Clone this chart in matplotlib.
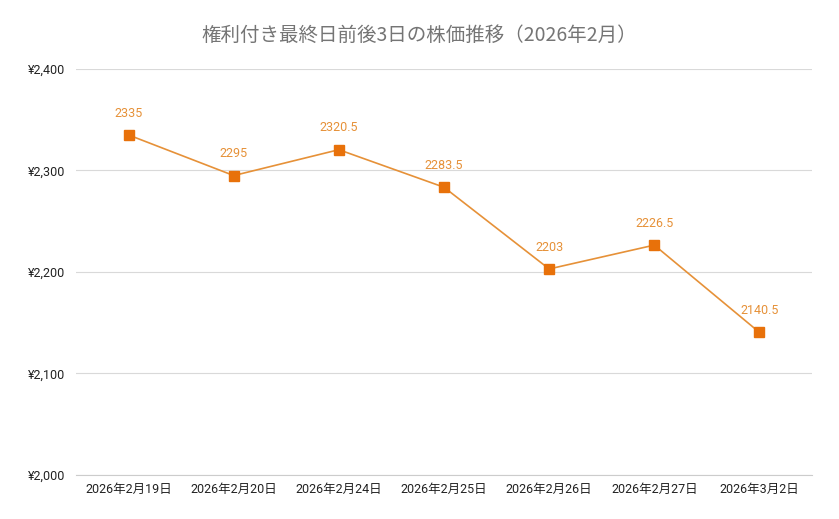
import matplotlib
matplotlib.use("Agg")
import matplotlib.pyplot as plt
from matplotlib.ticker import FuncFormatter

plt.rcParams['font.family'] = ['Roboto', 'Noto Sans CJK JP', 'DejaVu Sans']

# data
dates = ["2026年2月19日", "2026年2月20日", "2026年2月24日", "2026年2月25日",
         "2026年2月26日", "2026年2月27日", "2026年3月2日"]
prices = [2335, 2295, 2320.5, 2283.5, 2203, 2226.5, 2140.5]
price_labels = ["2335", "2295", "2320.5", "2283.5", "2203", "2226.5", "2140.5"]
yticks = [2000, 2100, 2200, 2300, 2400]

fig = plt.figure(figsize=(8.39, 5.19), dpi=100)
ax = fig.add_axes([76 / 839, 1 - 475 / 519, (812 - 76) / 839, (475 - 69) / 519])

x = list(range(len(dates)))
ax.plot(x, prices, color="#e69138", linewidth=1.2, marker="s", markersize=7,
        markerfacecolor="#e8710a", markeredgecolor="#e8710a", zorder=3)

for xi, yi, lab in zip(x, prices, price_labels):
    ax.annotate(lab, (xi, yi), xytext=(0, 11), textcoords="offset points",
                ha="center", va="bottom", fontsize=9, color="#e69138")

ax.set_xlim(-0.5, len(dates) - 0.5)
ax.set_ylim(2000, 2400)
ax.set_yticks(yticks)
ax.yaxis.set_major_formatter(FuncFormatter(lambda v, p: "¥{:,.0f}".format(v)))
ax.set_xticks(x)
ax.set_xticklabels(dates)

ax.grid(axis="y", color="#d9d9d9", linewidth=0.8)
ax.set_axisbelow(True)
for s in ["top", "right", "left"]:
    ax.spines[s].set_visible(False)
ax.spines["bottom"].set_color("#cccccc")
ax.tick_params(axis="both", length=0, labelsize=9, colors="#222222")
ax.tick_params(axis="y", pad=8)
ax.tick_params(axis="x", pad=6)

fig.text(0.5, 1 - 35 / 519, "権利付き最終日前後3日の株価推移（2026年2月）",
         ha="center", va="center", fontsize=14, color="#757575",
         family=["Noto Sans CJK JP", "DejaVu Sans"])

fig.savefig("out.png", dpi=100, facecolor="white")
